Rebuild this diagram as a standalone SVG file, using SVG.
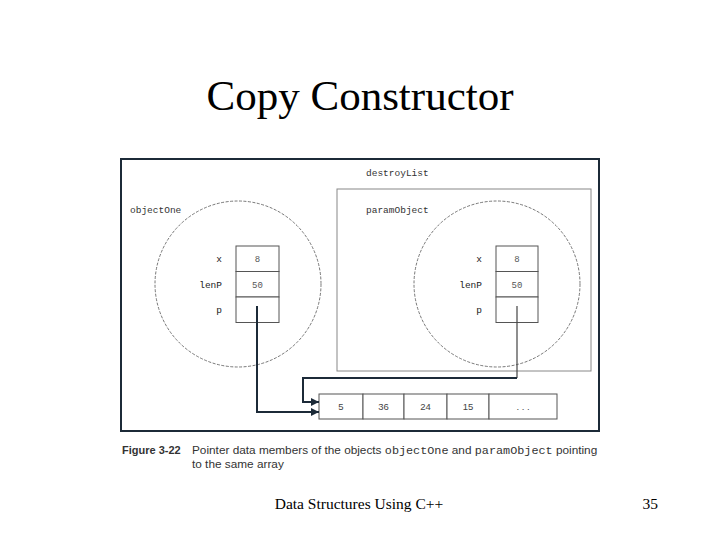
<svg xmlns="http://www.w3.org/2000/svg" width="720" height="540" viewBox="0 0 720 540">
<style>
.title{font-family:"Liberation Serif","Times New Roman",serif;font-size:43px;fill:#000}
.foot{font-family:"Liberation Serif","Times New Roman",serif;font-size:15.5px;fill:#000}
.mono{font-family:"Liberation Mono","Courier New",monospace;font-size:9.5px;fill:#333}
.lbl{font-family:"Liberation Mono","Courier New",monospace;font-size:9.5px;fill:#222;text-anchor:end}
.val{font-family:"Liberation Mono","Courier New",monospace;font-size:9px;fill:#555;text-anchor:middle}
.arr{font-family:"Liberation Sans",Arial,sans-serif;font-size:9.5px;fill:#444;text-anchor:middle}
.cap{font-family:"Liberation Sans",Arial,sans-serif;font-size:11.8px;fill:#333}
.capb{font-family:"Liberation Sans",Arial,sans-serif;font-size:11px;font-weight:bold;fill:#333}
.capm{font-family:"Liberation Mono","Courier New",monospace;font-size:11.8px;fill:#333}
.cell{fill:#fff;stroke:#555;stroke-width:1}
.circ{fill:none;stroke:#555;stroke-width:0.8;stroke-dasharray:3 1.5}
.ptr{fill:none;stroke:#1c2a38;stroke-width:2}
</style>
<defs>
<marker id="ah" markerWidth="8" markerHeight="8" refX="8" refY="4" orient="auto" markerUnits="userSpaceOnUse">
<path d="M0,0 L8,4 L0,8 z" fill="#1c2a38"/>
</marker>
</defs>
<rect width="720" height="540" fill="#fff"/>
<text class="title" x="360" y="110" text-anchor="middle">Copy Constructor</text>

<g id="frame">
<rect x="121" y="159" width="478" height="272" fill="#fff" stroke="#1c2a38" stroke-width="2"/>
</g>
<g id="destroyList">
<rect x="337" y="189" width="254" height="182" fill="none" stroke="#888" stroke-width="1"/>
<text class="mono" x="366" y="176">destroyList</text>
<text class="mono" x="366" y="213">paramObject</text>
</g>
<g id="objectOne">
<circle class="circ" cx="238" cy="284" r="83"/>
<text class="mono" x="130" y="213">objectOne</text>
<rect class="cell" x="236" y="246" width="43" height="25.5"/>
<rect class="cell" x="236" y="271.5" width="43" height="25.5"/>
<rect class="cell" x="236" y="297" width="43" height="25.5"/>
<text class="lbl" x="222" y="262">x</text>
<text class="lbl" x="222" y="288">lenP</text>
<text class="lbl" x="222" y="313">p</text>
<text class="val" x="257.5" y="262">8</text>
<text class="val" x="257.5" y="288">50</text>
</g>
<g id="paramObject">
<circle class="circ" cx="497" cy="284" r="83"/>
<rect class="cell" x="496" y="246" width="42" height="25.5"/>
<rect class="cell" x="496" y="271.5" width="42" height="25.5"/>
<rect class="cell" x="496" y="297" width="42" height="25.5"/>
<text class="lbl" x="482" y="262">x</text>
<text class="lbl" x="482" y="288">lenP</text>
<text class="lbl" x="482" y="313">p</text>
<text class="val" x="517" y="262">8</text>
<text class="val" x="517" y="288">50</text>
</g>
<g id="array">
<rect class="cell" x="319" y="394" width="44" height="25"/>
<rect class="cell" x="363" y="394" width="41" height="25"/>
<rect class="cell" x="404" y="394" width="43" height="25"/>
<rect class="cell" x="447" y="394" width="42" height="25"/>
<rect class="cell" x="489" y="394" width="68" height="25"/>
<text class="arr" x="341" y="410">5</text>
<text class="arr" x="383.5" y="410">36</text>
<text class="arr" x="425.5" y="410">24</text>
<text class="arr" x="468" y="410">15</text>
<text class="arr" x="523" y="410">. . .</text>
</g>
<g id="connectors">
<path class="ptr" d="M257,306 V412 H319" marker-end="url(#ah)"/>
<path d="M517,306 V378" fill="none" stroke="#444" stroke-width="1.2"/>
<path class="ptr" d="M517,378 H303 V402 H319" marker-end="url(#ah)"/>
</g>
<g id="caption">
<text class="capb" x="122" y="454">Figure 3-22</text>
<text class="cap" x="192" y="454">Pointer data members of the objects <tspan class="capm">objectOne</tspan> and <tspan class="capm">paramObject</tspan> pointing</text>
<text class="cap" x="192" y="468">to the same array</text>
</g>
<text class="foot" x="359" y="509" text-anchor="middle">Data Structures Using C++</text>
<text class="foot" x="658" y="509" text-anchor="end">35</text>
</svg>
